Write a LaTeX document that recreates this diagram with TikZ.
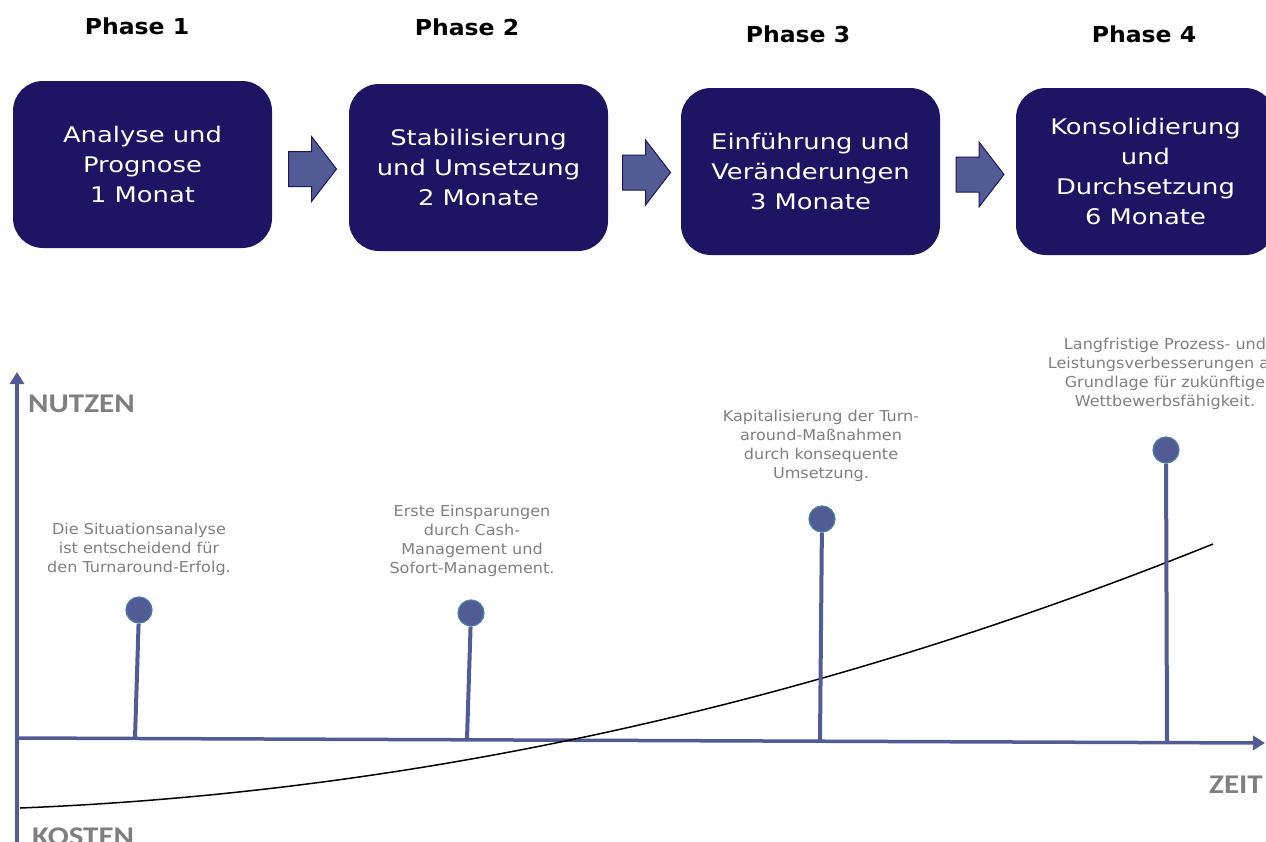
\documentclass[tikz,border=0pt]{standalone}
\usepackage{fontspec}
\usepackage{xcolor}
\usepackage{tikz}
\setmainfont{DejaVu Sans}
\newfontfamily\phasefont[FakeStretch=1.07]{DejaVu Sans}
\newfontfamily\boxfont[FakeStretch=1.2]{DejaVu Sans}
\newfontfamily\notefont[FakeStretch=1.07]{DejaVu Sans}
\newfontfamily\axisfont[FakeStretch=1.15]{Carlito}
\usetikzlibrary{positioning,calc,arrows.meta}

\definecolor{boxblue}{HTML}{1E1464}
\definecolor{slate}{HTML}{525C94}
\definecolor{pinring}{HTML}{4A7EA8}
\definecolor{notegray}{HTML}{7F7F7F}

\begin{document}
\begin{tikzpicture}[x=1pt,y=-1pt,
    phasebox/.style={rectangle, rounded corners=30pt, fill=boxblue, text=white,
        minimum width=259pt, minimum height=167pt, align=center, inner sep=0pt,
        font=\boxfont\fontsize{21.5}{30}\selectfont},
    phaselabel/.style={anchor=base, font=\phasefont\bfseries\fontsize{22}{26}\selectfont},
    blockarrow/.style={draw=boxblue, fill=slate, line width=1pt},
    axis/.style={draw=slate, line width=3.5pt, -{Triangle[length=12pt,width=14pt]}},
    pin/.style={circle, fill=slate, draw=pinring, line width=1.2pt, minimum size=26pt, inner sep=0pt},
    stem/.style={draw=slate, line width=4pt},
    note/.style={anchor=north, align=center, inner sep=0pt, text=notegray,
        font=\notefont\fontsize{15}{19}\selectfont},
    axislabel/.style={inner sep=0pt, text=notegray, font=\axisfont\bfseries\fontsize{27}{30}\selectfont}
]
    \useasboundingbox (0,0) rectangle (1266,841);
    \clip (0,0) rectangle (1266,841);

    % Phase titles
    \node[phaselabel] (ph1) at (137,34) {Phase 1};
    \node[phaselabel] (ph2) at (467,35) {Phase 2};
    \node[phaselabel] (ph3) at (798,42) {Phase 3};
    \node[phaselabel] (ph4) at (1144,42) {Phase 4};

    % Phase boxes
    \node[phasebox] (b1) at (142.5,164.5) {Analyse und\\Prognose\\1 Monat};
    \node[phasebox] (b2) at (478.5,167.5) {Stabilisierung\\und Umsetzung\\2 Monate};
    \node[phasebox] (b3) at (810.5,171.5) {Einführung und\\Veränderungen\\3 Monate};
    \node[phasebox] (b4) at (1145.5,171.5) {Konsolidierung\\und\\Durchsetzung\\6 Monate};

    % Block arrows between the boxes
    \foreach \a/\b in {b1/b2,b2/b3,b3/b4}{
        \coordinate (m) at ($(\a.east)!0.5!(\b.west)+(2,3)$);
        \draw[blockarrow] ($(m)+(-24,-17.5)$) -- ++(23,0) -- ++(0,-15) -- ++(25,32.5)
            -- ++(-25,32.5) -- ++(0,-15) -- ++(-23,0) -- cycle;
    }

    % Axes
    \coordinate (yb) at (17,845);
    \coordinate (yt) at (17,372);
    \coordinate (o) at (17,738);
    \coordinate (xe) at (1265,743);
    \draw[axis] (yb) -- (yt);
    \draw[axis] (o) -- (xe);

    \node[axislabel, anchor=base west] (nutzen) at (28,412) {NUTZEN};
    \node[axislabel, anchor=base west] (kosten) at (32,845) {KOSTEN};
    \node[axislabel, anchor=base east] (zeit) at (1263,793) {ZEIT};

    % Cost / benefit curve
    \coordinate (c0) at (20,808);
    \coordinate (c1) at (1213,544);
    \draw[black, line width=1.5pt] (c0) .. controls (417.7,792.1) and (815.3,704.1) .. (c1);

    % Milestone pins
    \foreach \n/\px/\py/\fx/\fy in {1/139/610/135/738, 2/471/613/467/739, 3/822/519/820/740, 4/1166/450/1167/743}{
        \coordinate (f\n) at (\fx,\fy);
        \node[pin] (p\n) at (\px,\py) {};
        \draw[stem] (p\n) -- (f\n);
    }

    % Milestone notes
    \node[note] (n1) at (139,522.6) {Die Situationsanalyse\\ist entscheidend für\\den Turnaround-Erfolg.};
    \node[note] (n2) at (472,504.6) {Erste Einsparungen\\durch Cash-\\Management und\\Sofort-Management.};
    \node[note] (n3) at (821,409.6) {Kapitalisierung der Turn-\\around-Maßnahmen\\durch konsequente\\Umsetzung.};
    \node[note] (n4) at (1165,337.6) {Langfristige Prozess- und\\Leistungsverbesserungen als\\Grundlage für zukünftige\\Wettbewerbsfähigkeit.};
\end{tikzpicture}
\end{document}
